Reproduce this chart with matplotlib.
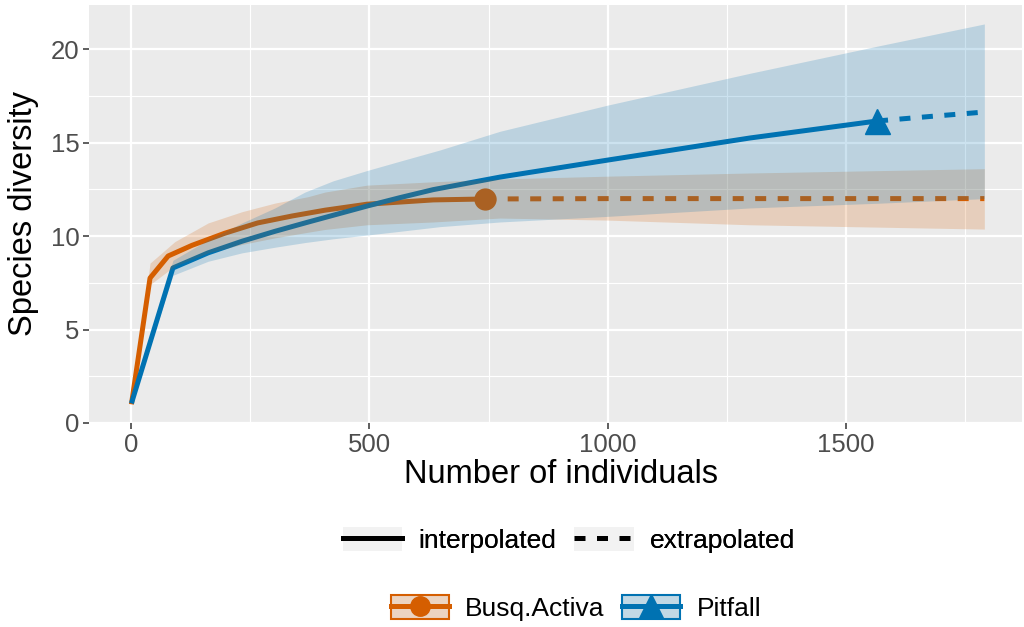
import matplotlib
matplotlib.use("Agg")
import matplotlib.pyplot as plt
from matplotlib.patches import Patch
from matplotlib.lines import Line2D
from matplotlib.colors import to_rgba

plt.rcParams['font.family'] = ['Liberation Sans', 'DejaVu Sans']

# --- data ------------------------------------------------------------------
busq_x_int = [1, 40, 78, 128, 197, 266, 338, 407, 495, 634, 743]
busq_y_int = [1, 7.75, 8.93, 9.5, 10.15, 10.7, 11.07, 11.38, 11.7, 11.93, 11.98]
busq_x_ext = [743, 1000, 1250, 1500, 1790]
busq_y_ext = [11.98, 12.0, 12.0, 12.0, 12.0]
busq_band_x = [1, 40, 92, 162, 233, 302, 371, 407, 495, 634, 774, 1000, 1298, 1790]
busq_lower = [1, 7.4, 8.4, 9.1, 9.55, 9.9, 10.2, 10.35, 10.6, 10.75, 10.96, 10.85, 10.6, 10.37]
busq_upper = [1, 8.55, 9.7, 10.7, 11.3, 11.76, 12.1, 12.35, 12.72, 12.9, 13.05, 13.2, 13.37, 13.6]

pit_x_int = [1, 88, 162, 233, 302, 371, 495, 564, 634, 774, 1000, 1298, 1565]
pit_y_int = [1.05, 8.29, 9.1, 9.72, 10.25, 10.74, 11.6, 12.05, 12.48, 13.15, 14.06, 15.24, 16.15]
pit_x_ext = [1565, 1680, 1790]
pit_y_ext = [16.15, 16.4, 16.63]
pit_band_x = [1, 88, 162, 233, 302, 365, 424, 495, 564, 648, 774, 1000, 1298, 1565, 1790]
pit_lower = [1, 7.9, 8.65, 9.1, 9.4, 9.65, 9.85, 10.05, 10.25, 10.5, 10.75, 11.05, 11.5, 11.75, 12.0]
pit_upper = [1, 8.7, 9.8, 10.7, 11.5, 12.35, 12.95, 13.5, 14.0, 14.6, 15.6, 17.0, 18.7, 20.15, 21.34]

groups = ["Busq.Activa", "Pitfall"]
colors = ["#D55E00", "#0072B2"]
markers = ["o", "^"]
marker_sizes = [15, 18]

x_ticks = [0, 500, 1000, 1500]
y_ticks = [0, 5, 10, 15, 20]

# --- figure -----------------------------------------------------------------
fig = plt.figure(figsize=(10.24, 6.27), dpi=100)
ax = fig.add_axes([89 / 1024, 1 - 423 / 627, (1022 - 89) / 1024, (423 - 4.5) / 627])
ax.set_facecolor("#EBEBEB")

series = [
    (busq_x_int, busq_y_int, busq_x_ext, busq_y_ext, busq_band_x, busq_lower, busq_upper),
    (pit_x_int, pit_y_int, pit_x_ext, pit_y_ext, pit_band_x, pit_lower, pit_upper),
]
dash = (0, (2.2, 2.3))
for (xi, yi, xe, ye, bx, lo, hi), col, mk, ms in zip(series, colors, markers, marker_sizes):
    ax.plot(xi, yi, color=col, lw=3.6, solid_capstyle="butt", zorder=2)
    ax.plot(xe, ye, color=col, lw=3.6, ls=dash, zorder=2)
    ax.plot(xi[-1], yi[-1], marker=mk, ms=ms, color=col, mec=col, zorder=2.5)
    # ribbons sit above the lines, as in the original
    ax.fill_between(bx, lo, hi, color=col, alpha=0.2, lw=0, zorder=3)

ax.set_xlim(-88, 1869)
ax.set_ylim(0, 22.38)
ax.set_xticks(x_ticks)
ax.set_yticks(y_ticks)
ax.set_xticks([250, 750, 1250, 1750], minor=True)
ax.set_yticks([2.5, 7.5, 12.5, 17.5], minor=True)
ax.grid(which="major", color="white", lw=1.6)
ax.grid(which="minor", color="white", lw=0.8)
ax.set_axisbelow(True)
for s in ax.spines.values():
    s.set_visible(False)
ax.tick_params(which="major", length=4, width=1.1, color="#333333",
               labelsize=18.5, labelcolor="#4D4D4D", pad=3)
ax.tick_params(which="minor", length=0)

ax.set_xlabel("Number of individuals", fontsize=23.5, labelpad=3)
ax.xaxis.set_label_coords(0.506, -0.085)
ax.set_ylabel("Species diversity", fontsize=23.5, labelpad=8)

# --- legends ----------------------------------------------------------------
key_bg = "#F2F2F2"
lt_handles = [
    (Patch(facecolor=key_bg, edgecolor="none"), Line2D([], [], color="black", lw=3.6)),
    (Patch(facecolor=key_bg, edgecolor="none"), Line2D([], [], color="black", lw=3.6, ls=dash)),
]
leg1 = fig.legend(lt_handles, ["interpolated", "extrapolated"], loc="center",
                  bbox_to_anchor=(569 / 1024, 1 - 540 / 627), ncol=2, frameon=False,
                  fontsize=19, handlelength=2.25, handleheight=1.05,
                  handletextpad=0.62, columnspacing=0.68)

grp_handles = []
for col, mk in zip(colors, markers):
    grp_handles.append((
        Patch(facecolor=key_bg, edgecolor="none"),
        Patch(facecolor=to_rgba(col, 0.2), edgecolor=col, lw=1.5),
        Line2D([], [], color=col, lw=3.6, marker=mk, ms=14 if mk == "o" else 17),
    ))
leg2 = fig.legend(grp_handles, groups, loc="center",
                  bbox_to_anchor=(576 / 1024, 1 - 608 / 627), ncol=2, frameon=False,
                  fontsize=19, handlelength=2.2, handleheight=1.02,
                  handletextpad=0.62, columnspacing=0.68)
fig.add_artist(leg1)

fig.savefig("out.png", dpi=100)
